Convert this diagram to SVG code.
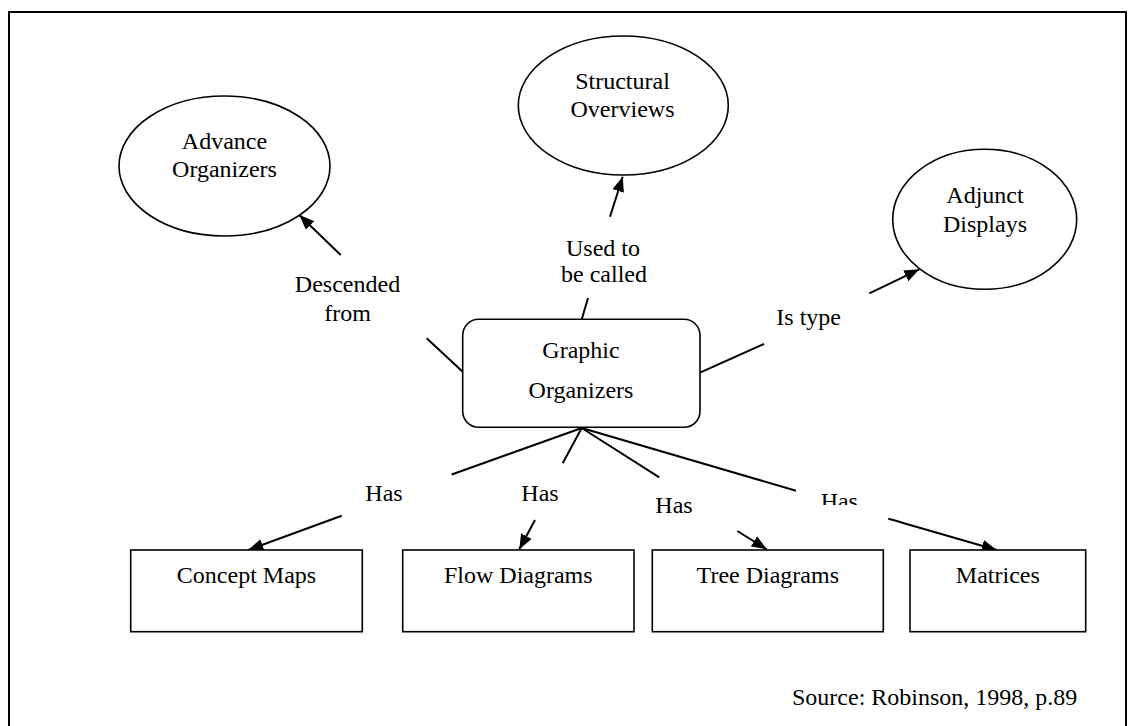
<svg xmlns="http://www.w3.org/2000/svg" width="1136" height="726" viewBox="0 0 1136 726">
  <style>
    text { font-family: "Liberation Serif", "Times New Roman", serif; font-size: 24px; fill: #000; }
    .mid { text-anchor: middle; }
    .shape { fill: #fff; stroke: #000; stroke-width: 1.6; }
    .link { fill: none; stroke: #000; stroke-width: 2; }
    .arrow { fill: none; stroke: #000; stroke-width: 2; marker-end: url(#head); }
  </style>
  <defs>
    <marker id="head" markerUnits="userSpaceOnUse" markerWidth="16" markerHeight="12" refX="15" refY="6" orient="auto">
      <path d="M0,0 L15,6 L0,12 z" fill="#000"/>
    </marker>
    <clipPath id="clipHas4">
      <rect x="800" y="480" width="80" height="25"/>
    </clipPath>
  </defs>

  <rect x="0" y="0" width="1136" height="726" fill="#fff"/>
  <!-- outer frame -->
  <rect x="9" y="12" width="1117" height="740" fill="none" stroke="#000" stroke-width="2"/>

  <g id="connectors">
    <!-- Graphic Organizers -> Advance Organizers -->
    <line class="link" x1="462.7" y1="371.7" x2="426.7" y2="338.3"/>
    <text class="mid" x="347.5" y="292.3">Descended</text>
    <text class="mid" x="347.5" y="321">from</text>
    <line class="arrow" x1="340.7" y1="255" x2="299.3" y2="215"/>

    <!-- Graphic Organizers -> Structural Overviews -->
    <line class="link" x1="581.7" y1="319.5" x2="588" y2="298"/>
    <text class="mid" x="603" y="256">Used to</text>
    <text class="mid" x="604" y="281.7">be called</text>
    <line class="arrow" x1="610" y1="216.7" x2="622.7" y2="176.7"/>

    <!-- Graphic Organizers -> Adjunct Displays -->
    <line class="link" x1="700" y1="372.7" x2="764" y2="344"/>
    <text class="mid" x="808.7" y="325">Is type</text>
    <line class="arrow" x1="869.3" y1="293.3" x2="919.3" y2="269.3"/>

    <!-- fan of "Has" links -->
    <line class="link" x1="581.7" y1="428" x2="451.7" y2="474.5"/>
    <line class="link" x1="581.7" y1="428" x2="562.7" y2="463.3"/>
    <line class="link" x1="581.7" y1="428" x2="659.3" y2="477.3"/>
    <line class="link" x1="581.7" y1="428" x2="796" y2="490.7"/>

    <text class="mid" x="384" y="500.7">Has</text>
    <text class="mid" x="540" y="500.7">Has</text>
    <text class="mid" x="674" y="513.3">Has</text>
    <text class="mid" x="839.3" y="508.5" clip-path="url(#clipHas4)">Has</text>

    <line class="arrow" x1="341.7" y1="515.7" x2="248.3" y2="550"/>
    <line class="arrow" x1="535" y1="520" x2="519.3" y2="549.3"/>
    <line class="arrow" x1="737.3" y1="531" x2="766.7" y2="549.3"/>
    <path class="arrow" d="M888.3,518.7 Q896,520.5 904,523.3 L996.7,550"/>
  </g>

  <g id="advance-organizers">
    <ellipse class="shape" cx="224.5" cy="166" rx="105.5" ry="70"/>
    <text class="mid" x="224.5" y="149">Advance</text>
    <text class="mid" x="224.5" y="177">Organizers</text>
  </g>

  <g id="structural-overviews">
    <ellipse class="shape" cx="623.3" cy="105.5" rx="105" ry="69.5"/>
    <text class="mid" x="622.5" y="89">Structural</text>
    <text class="mid" x="622.5" y="116.7">Overviews</text>
  </g>

  <g id="adjunct-displays">
    <ellipse class="shape" cx="984.7" cy="219.3" rx="92" ry="70"/>
    <text class="mid" x="985" y="202.7">Adjunct</text>
    <text class="mid" x="985" y="231.7">Displays</text>
  </g>

  <g id="graphic-organizers">
    <rect class="shape" x="462.7" y="319.3" width="237.3" height="108" rx="16" ry="16"/>
    <text class="mid" x="581" y="358.3">Graphic</text>
    <text class="mid" x="581" y="398.3">Organizers</text>
  </g>

  <g id="concept-maps">
    <rect class="shape" x="130.7" y="550" width="231.6" height="81.7"/>
    <text class="mid" x="246.5" y="583.3">Concept Maps</text>
  </g>

  <g id="flow-diagrams">
    <rect class="shape" x="402.7" y="550" width="231.3" height="81.7"/>
    <text class="mid" x="518.3" y="583.3">Flow Diagrams</text>
  </g>

  <g id="tree-diagrams">
    <rect class="shape" x="652.3" y="550" width="231" height="81.7"/>
    <text class="mid" x="767.8" y="583">Tree Diagrams</text>
  </g>

  <g id="matrices">
    <rect class="shape" x="910" y="550" width="175.7" height="81.7"/>
    <text class="mid" x="997.8" y="583">Matrices</text>
  </g>

  <text x="792" y="705">Source: Robinson, 1998, p.89</text>
</svg>
